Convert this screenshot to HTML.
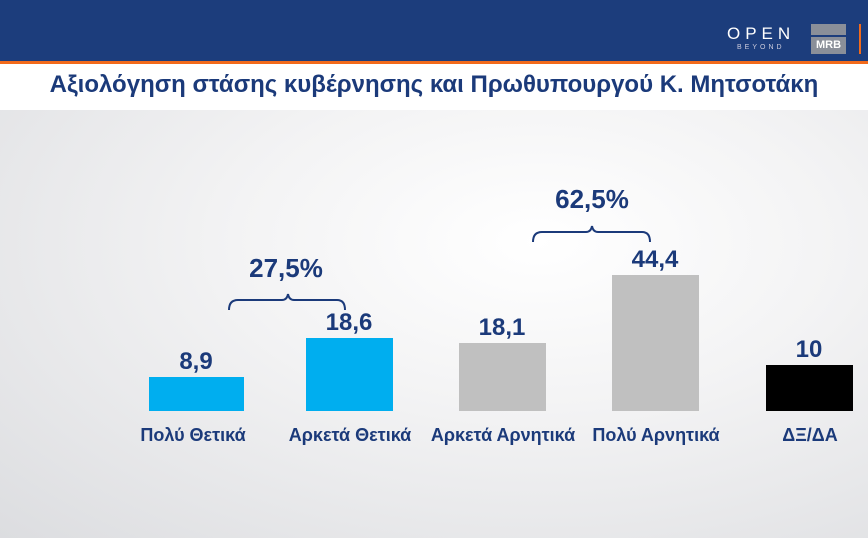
<!DOCTYPE html>
<html><head><meta charset="utf-8"><style>
body{margin:0;width:868px;height:538px;overflow:hidden;font-family:"Liberation Sans","DejaVu Sans",sans-serif}
.bg{position:absolute;left:0;top:0;width:868px;height:538px;background:radial-gradient(ellipse at 62% 45%,#ffffff 0%,#f3f3f4 40%,#dcdde0 100%)}
.hdr{position:absolute;left:0;top:0;width:868px;height:61px;background:#1c3d7c}
.org{position:absolute;left:0;top:61px;width:868px;height:3px;background:#f26a1b}
.tb{position:absolute;left:0;top:64px;width:868px;height:46px;background:#fff}
.t{position:absolute;left:0;top:71px;width:868px;text-align:center;font-weight:bold;font-size:24px;color:#1b3a7a}
.bar{position:absolute}
.v{position:absolute;width:120px;text-align:center;font-weight:bold;font-size:24px;color:#1b3a7a}
.l{position:absolute;width:180px;text-align:center;font-weight:bold;font-size:18px;color:#1b3a7a;top:425px}
</style></head><body>
<div class="bg"></div>
<div class="hdr"></div><div class="org"></div><div class="tb"></div>
<div style="position:absolute;left:727px;top:24px;color:#fff;font-size:17px;letter-spacing:5px">OPEN</div>
<div style="position:absolute;left:737px;top:44px;color:#ccd;font-size:7px;letter-spacing:3px">BEYOND</div>
<div style="position:absolute;left:811px;top:24px;width:35px;height:11px;background:#8a8f99"></div>
<div style="position:absolute;left:811px;top:37px;width:35px;height:17px;background:#8a8f99;color:#fff;font-weight:bold;font-size:11px;text-align:center;line-height:17px">MRB</div>
<div style="position:absolute;left:859px;top:24px;width:2px;height:30px;background:#f26a1b"></div>
<div class="t">Αξιολόγηση στάσης κυβέρνησης και Πρωθυπουργού Κ. Μητσοτάκη</div>

<div class="bar" style="left:149px;top:377px;width:95px;height:34px;background:#00aeef"></div>
<div class="bar" style="left:306px;top:338px;width:87px;height:73px;background:#00aeef"></div>
<div class="bar" style="left:459px;top:343px;width:87px;height:68px;background:#c0c0c0"></div>
<div class="bar" style="left:612px;top:275px;width:87px;height:136px;background:#c0c0c0"></div>
<div class="bar" style="left:766px;top:365px;width:87px;height:46px;background:#000"></div>

<div class="v" style="left:136px;top:348px">8,9</div>
<div class="v" style="left:289px;top:309px">18,6</div>
<div class="v" style="left:442px;top:314px">18,1</div>
<div class="v" style="left:595px;top:246px">44,4</div>
<div class="v" style="left:749px;top:336px">10</div>

<div class="l" style="left:103px">Πολύ Θετικά</div>
<div class="l" style="left:260px">Αρκετά Θετικά</div>
<div class="l" style="left:413px">Αρκετά Αρνητικά</div>
<div class="l" style="left:566px">Πολύ Αρνητικά</div>
<div class="l" style="left:720px">ΔΞ/ΔΑ</div>

<div class="v" style="left:226px;top:253px;font-size:26px">27,5%</div>
<div class="v" style="left:532px;top:184px;font-size:26px">62,5%</div>
<svg style="position:absolute;left:0;top:0" width="868" height="538">
<path d="M229,310 Q229,300 238,300 L282,300 Q287,300 288,294 Q289,300 294,300 L337,300 Q345,300 345,310" fill="none" stroke="#1b3a7a" stroke-width="2"/>
<path d="M533,242 Q533,232 542,232 L586,232 Q591,232 592,226 Q593,232 598,232 L642,232 Q650,232 650,242" fill="none" stroke="#1b3a7a" stroke-width="2"/>
</svg>
</body></html>
